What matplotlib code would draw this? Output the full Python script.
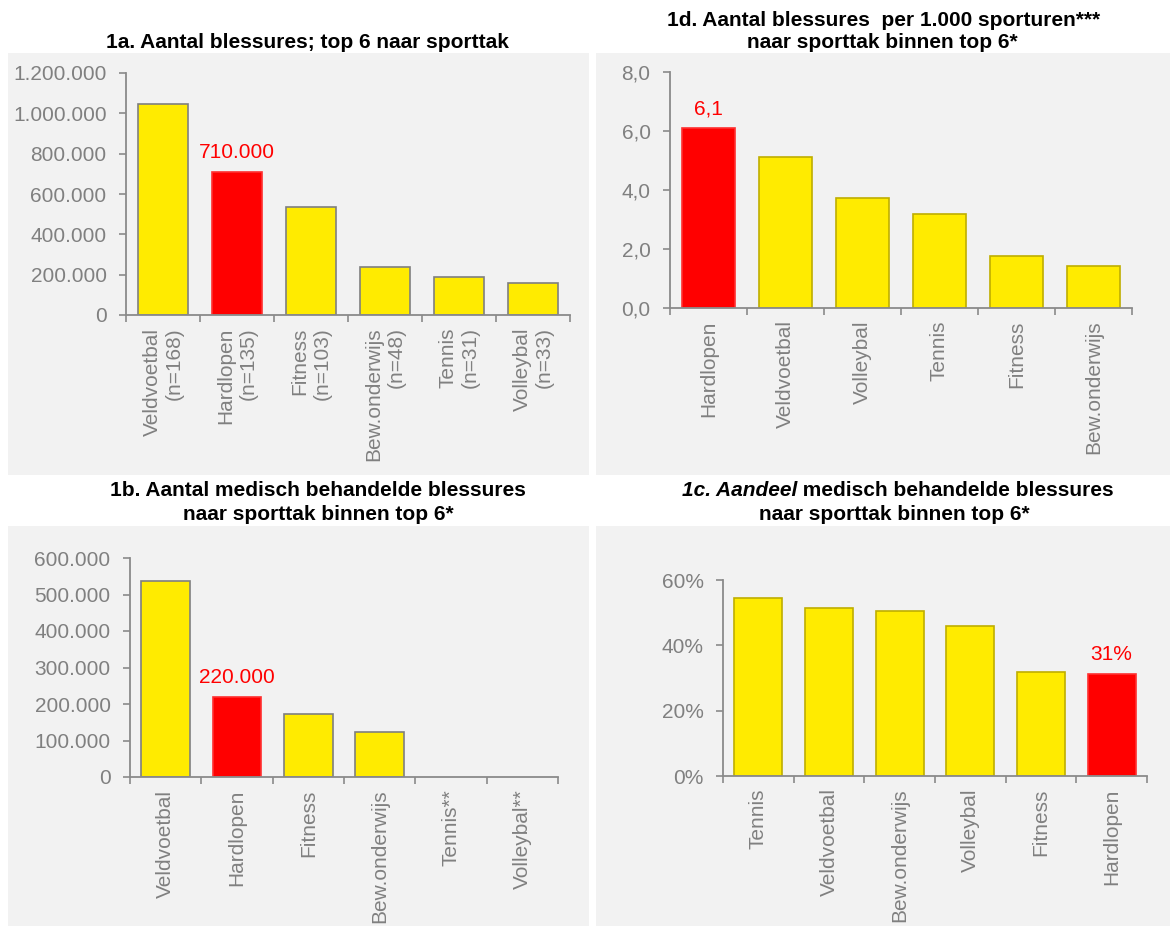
import matplotlib
matplotlib.use("Agg")
import matplotlib.pyplot as plt
from matplotlib.patches import Rectangle
from matplotlib.ticker import FuncFormatter, FixedLocator

plt.rcParams['font.family'] = ['Liberation Sans', 'DejaVu Sans']

# ---------------- data ----------------
cats_a = ["Veldvoetbal\n(n=168)", "Hardlopen\n(n=135)", "Fitness\n(n=103)",
          "Bew.onderwijs\n(n=48)", "Tennis\n(n=31)", "Volleybal\n(n=33)"]
vals_a = [1045000, 710000, 538000, 240000, 188000, 158000]

cats_d = ["Hardlopen", "Veldvoetbal", "Volleybal", "Tennis", "Fitness", "Bew.onderwijs"]
vals_d = [6.1, 5.13, 3.72, 3.19, 1.75, 1.41]

cats_b = ["Veldvoetbal", "Hardlopen", "Fitness", "Bew.onderwijs", "Tennis**", "Volleybal**"]
vals_b = [537000, 220000, 172000, 122000, 0, 0]

cats_c = ["Tennis", "Veldvoetbal", "Bew.onderwijs", "Volleybal", "Fitness", "Hardlopen"]
vals_c = [0.546, 0.513, 0.506, 0.460, 0.318, 0.312]

highlight = "Hardlopen"
labels_a = "710.000"
labels_d = "6,1"
labels_b = "220.000"
labels_c = "31%"

# ---------------- style ----------------
W, H = 1170, 926
YELLOW = "#FFEB00"
RED = "#FF0000"
GRAYBG = "#F2F2F2"
SPINE = "#8A8A8A"
TICKTXT = "#808080"
FS = 15

fig = plt.figure(figsize=(W / 100, H / 100), dpi=100)
fig.patch.set_facecolor("white")


def fx(px):
    return px / W


def fy(py):
    return 1 - py / H


def panel(x0, y0, x1, y1):
    fig.add_artist(Rectangle((fx(x0), fy(y1)), (x1 - x0) / W, (y1 - y0) / H,
                             transform=fig.transFigure, facecolor=GRAYBG,
                             edgecolor="none", zorder=-5))


def make_ax(left, right, top, bottom):
    return fig.add_axes([fx(left), fy(bottom), (right - left) / W, (bottom - top) / H])


def dutch_int(v, pos=None):
    return f"{int(round(v)):,}".replace(",", ".")


def dutch_1dec(v, pos=None):
    return f"{v:.1f}".replace(".", ",")


def pct(v, pos=None):
    return f"{int(round(v * 100))}%"


def style_ax(ax, cats, vals, ymax, ystep, fmt, edge_yellow, label, ma="right"):
    n = len(cats)
    x = list(range(n))
    colors = [RED if c.split("\n")[0].rstrip("*") == highlight else YELLOW for c in cats]
    edges = []
    for c, v in zip(colors, vals):
        if v == 0:
            edges.append("none")
        elif c == RED:
            edges.append("#FF3030")
        else:
            edges.append(edge_yellow)
    ax.bar(x, vals, width=0.68, color=colors, edgecolor=edges, linewidth=1.2, zorder=3)
    ax.set_xlim(-0.5, n - 0.5)
    ax.set_ylim(0, ymax)
    ax.set_facecolor("none")
    for s in ["top", "right"]:
        ax.spines[s].set_visible(False)
    for s in ["left", "bottom"]:
        ax.spines[s].set_color(SPINE)
        ax.spines[s].set_linewidth(1.3)
        ax.spines[s].set_zorder(4)
    ticks = []
    t = 0
    while t <= ymax + 1e-9:
        ticks.append(t)
        t += ystep
    ax.set_yticks(ticks)
    ax.yaxis.set_major_formatter(FuncFormatter(fmt))
    ax.tick_params(axis="y", direction="out", length=5, width=1.2, color=SPINE,
                   labelsize=FS, labelcolor=TICKTXT, pad=9)
    ax.set_xticks(x)
    ax.set_xticklabels(cats, rotation=90, va="top", ha="center", ma=ma)
    ax.xaxis.set_minor_locator(FixedLocator([i - 0.5 for i in range(n + 1)]))
    ax.tick_params(axis="x", which="major", length=0, labelsize=FS,
                   labelcolor=TICKTXT, pad=9)
    ax.tick_params(axis="x", which="minor", direction="out", length=5, width=1.2,
                   color=SPINE)
    # data label on highlighted bar
    for i, c in enumerate(cats):
        if c.split("\n")[0].rstrip("*") == highlight:
            ax.annotate(label, (i, vals[i]), xytext=(0, 7), textcoords="offset points",
                        ha="center", va="bottom", color=RED, fontsize=FS, zorder=4)


# panels
panel(8, 53, 589, 475)
panel(596, 53, 1170, 475)
panel(8, 526, 589, 926)
panel(596, 526, 1170, 926)

# 1a
ax_a = make_ax(126, 570, 73, 315)
style_ax(ax_a, cats_a, vals_a, 1200000, 200000, dutch_int, "#7F7F7F", labels_a)
fig.text(fx(307), fy(43), "1a. Aantal blessures; top 6 naar sporttak",
         ha="center", va="center", fontsize=FS, fontweight="bold")

# 1d
ax_d = make_ax(670, 1132, 72, 308)
style_ax(ax_d, cats_d, vals_d, 8.0, 2.0, dutch_1dec, "#BFAE00", labels_d)
fig.text(fx(884), fy(20), "1d. Aantal blessures  per 1.000 sporturen***",
         ha="center", va="center", fontsize=FS, fontweight="bold")
fig.text(fx(882), fy(42), "naar sporttak binnen top 6*",
         ha="center", va="center", fontsize=FS, fontweight="bold")

# 1b
ax_b = make_ax(130, 558, 558, 777)
style_ax(ax_b, cats_b, vals_b, 600000, 100000, dutch_int, "#7F7F7F", labels_b)
fig.text(fx(318), fy(490), "1b. Aantal medisch behandelde blessures",
         ha="center", va="center", fontsize=FS, fontweight="bold")
fig.text(fx(318), fy(514), "naar sporttak binnen top 6*",
         ha="center", va="center", fontsize=FS, fontweight="bold")

# 1c
ax_c = make_ax(723, 1147, 580, 776)
style_ax(ax_c, cats_c, vals_c, 0.6, 0.2, pct, "#BFAE00", labels_c)

# 1c title with mixed italic part
fig.canvas.draw()
renderer = fig.canvas.get_renderer()
t1 = fig.text(0, fy(490), "1c. Aandeel", ha="left", va="center", fontsize=FS,
              fontweight="bold", fontstyle="italic")
t2 = fig.text(0, fy(490), " medisch behandelde blessures", ha="left", va="center",
              fontsize=FS, fontweight="bold")
w1 = t1.get_window_extent(renderer).width
w2 = t2.get_window_extent(renderer).width
center = 898
start = center - (w1 + w2) / 2
t1.set_x(fx(start))
t2.set_x(fx(start + w1))
fig.text(fx(894), fy(514), "naar sporttak binnen top 6*",
         ha="center", va="center", fontsize=FS, fontweight="bold")

fig.savefig("out.png", dpi=100, facecolor="white")
